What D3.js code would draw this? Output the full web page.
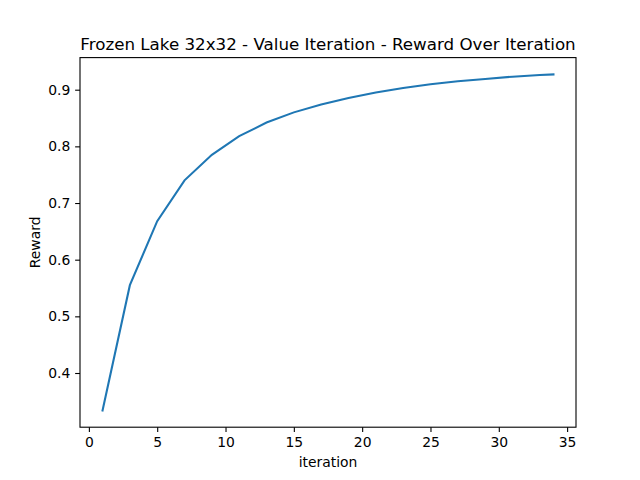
<!DOCTYPE html>
<html>
<head>
<meta charset="utf-8">
<script src="https://cdn.jsdelivr.net/npm/d3@7"></script>
<style>
  body { margin: 0; background: #fff; overflow: hidden; }
  svg { display: block; font-family: "DejaVu Sans", sans-serif; }
</style>
</head>
<body>
<div id="chart"></div>
<script>
// values
const iterations = [1, 3, 5, 7, 9, 11, 13, 15, 17, 19, 21, 23, 25, 27, 29, 31, 33, 34];
const rewards = [0.334, 0.555, 0.668, 0.740, 0.785, 0.818, 0.842, 0.860, 0.874, 0.8855,
                 0.895, 0.903, 0.9097, 0.915, 0.919, 0.923, 0.926, 0.927];
const xTicks = [0, 5, 10, 15, 20, 25, 30, 35];
const yTicks = [0.4, 0.5, 0.6, 0.7, 0.8, 0.9];

const width = 640, height = 480;
// matplotlib default subplot box
const margin = { top: 57.6, right: 64, bottom: 52.8, left: 80 };
const innerWidth = width - margin.left - margin.right;
const innerHeight = height - margin.top - margin.bottom;

const data = iterations.map((d, i) => ({ it: d, r: rewards[i] }));

// 5% padding like matplotlib autoscale
const xExt = d3.extent(iterations), yExt = d3.extent(rewards);
const xPad = (xExt[1] - xExt[0]) * 0.05, yPad = (yExt[1] - yExt[0]) * 0.05;

const xScale = d3.scaleLinear()
  .domain([xExt[0] - xPad, xExt[1] + xPad])
  .range([0, innerWidth]);
const yScale = d3.scaleLinear()
  .domain([yExt[0] - yPad, yExt[1] + yPad])
  .range([innerHeight, 0]);

const svg = d3.select("#chart")
  .append("svg")
  .attr("width", width)
  .attr("height", height);

const g = svg.append("g")
  .attr("transform", `translate(${margin.left},${margin.top})`);

const tick = 4.86;

// x axis
const xAxis = g.append("g")
  .attr("transform", `translate(0,${innerHeight})`)
  .call(d3.axisBottom(xScale).tickValues(xTicks).tickSize(tick).tickPadding(tick).tickFormat(d3.format("d")));
xAxis.select(".domain").remove();
xAxis.selectAll("line").attr("stroke", "#000").attr("stroke-width", 1.1);
xAxis.selectAll("text").style("font-size", "13.9px").attr("fill", "#000")
  .style("font-family", "DejaVu Sans");

// y axis
const yAxis = g.append("g")
  .call(d3.axisLeft(yScale).tickValues(yTicks).tickSize(tick).tickPadding(tick).tickFormat(d3.format(".1f")));
yAxis.select(".domain").remove();
yAxis.selectAll("line").attr("stroke", "#000").attr("stroke-width", 1.1);
yAxis.selectAll("text").style("font-size", "13.9px").attr("fill", "#000")
  .style("font-family", "DejaVu Sans");

// the line
g.append("path")
  .datum(data)
  .attr("fill", "none")
  .attr("stroke", "#1f77b4")
  .attr("stroke-width", 2.08)
  .attr("stroke-linecap", "square")
  .attr("d", d3.line().x(d => xScale(d.it)).y(d => yScale(d.r)));

// frame
g.append("rect")
  .attr("width", innerWidth)
  .attr("height", innerHeight)
  .attr("fill", "none")
  .attr("stroke", "#000")
  .attr("stroke-width", 1.1);

// title and labels
svg.append("text")
  .attr("x", margin.left + innerWidth / 2)
  .attr("y", 49.5)
  .attr("text-anchor", "middle")
  .style("font-size", "16.7px")
  .text("Frozen Lake 32x32 - Value Iteration - Reward Over Iteration");

svg.append("text")
  .attr("x", margin.left + innerWidth / 2)
  .attr("y", 467)
  .attr("text-anchor", "middle")
  .style("font-size", "13.9px")
  .text("iteration");

svg.append("text")
  .attr("transform", `translate(40,${margin.top + innerHeight / 2}) rotate(-90)`)
  .attr("text-anchor", "middle")
  .style("font-size", "13.9px")
  .text("Reward");
</script>
</body>
</html>
